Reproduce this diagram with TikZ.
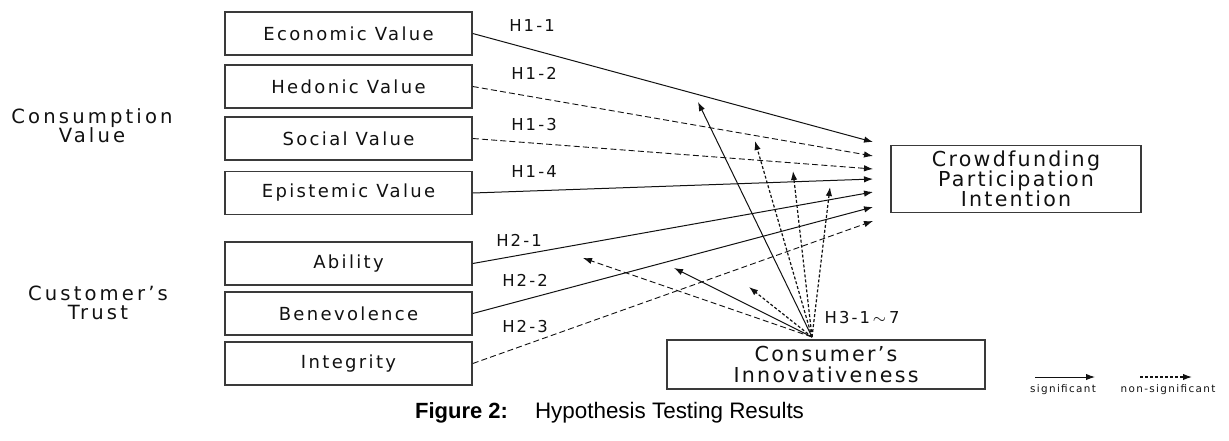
\documentclass[tikz,border=0pt]{standalone}
\usepackage{fontspec}
\setmainfont{Liberation Sans}
\newfontfamily\diagfont[LetterSpace=13]{DejaVu Sans}
\newfontfamily\groupfont[LetterSpace=16]{DejaVu Sans}
\newfontfamily\outfont[LetterSpace=11]{DejaVu Sans}
\usetikzlibrary{arrows.meta}
\definecolor{diagink}{HTML}{111111}
\definecolor{diagbox}{HTML}{3A3A3A}
\tikzset{
  varbox/.style={draw=diagbox, line width=.75pt, minimum width=123.5pt,
    minimum height=21.5pt, inner sep=0pt, align=center, text=diagink,
    font=\diagfont\fontsize{9}{10}\selectfont},
  outbox/.style={varbox, font=\outfont\fontsize{10.3}{10.1}\selectfont},
  groupname/.style={align=center, text=diagink,
    font=\groupfont\fontsize{9.8}{9.6}\selectfont},
  hyplabel/.style={text=diagink, font=\diagfont\fontsize{8.2}{9}\selectfont},
  legendtext/.style={text=diagink, font=\diagfont\fontsize{5.2}{6}\selectfont},
  sigflow/.style={-{Latex[length=4.5pt,width=3.2pt]}, draw=diagink, line width=.5pt},
  nsflow/.style={-{Latex[length=4.5pt,width=3.2pt]}, draw=diagink, line width=.45pt,
    dash pattern=on 3pt off 1.6pt},
  dotflow/.style={-{Latex[length=4.5pt,width=3.2pt]}, draw=diagink, line width=.6pt,
    dash pattern=on 1.5pt off 1pt}
}
\begin{document}
\begin{tikzpicture}[x=.5pt,y=-.5pt]
  \useasboundingbox (0,0) rectangle (1229,440);
  % constructs, positioned on the pixel grid of the original figure
  \node[groupname] (cval) at (92,126) {Consumption\\Value};
  \node[groupname] (ctrust) at (98,303) {Customer’s\\Trust};

  \node[varbox] (econ) at (348.5,33.5) {Economic Value};
  \node[varbox] (hedo) at (348.5,86.5) {Hedonic Value};
  \node[varbox] (soc) at (348.5,138.5) {Social Value};
  \node[varbox] (epis) at (348.5,193) {Epistemic Value};
  \node[varbox] (abil) at (348.5,263.5) {Ability};
  \node[varbox] (bene) at (348.5,313.5) {Benevolence};
  \node[varbox] (integ) at (348.5,363.5) {Integrity};
  \node[outbox, minimum width=125pt, minimum height=33.5pt] (cpi) at (1016,179)
    {Crowdfunding\\Participation\\Intention};
  \node[outbox, minimum width=159pt, minimum height=24.5pt] (innov) at (826,364.5)
    {Consumer’s\\Innovativeness};

  \coordinate (t11) at (873,142);
  \coordinate (t12) at (873,156);
  \coordinate (t13) at (873,169);
  \coordinate (t14) at (873,179);
  \coordinate (t21) at (873,192);
  \coordinate (t22) at (873,207);
  \coordinate (t23) at (873,221);
  \draw[sigflow] (econ.east) -- (t11);
  \draw[nsflow] (hedo.east) -- (t12);
  \draw[nsflow] (soc.east) -- (t13);
  \draw[sigflow] (epis.east) -- (t14);
  \draw[sigflow] (abil.east) -- (t21);
  \draw[sigflow] (bene.east) -- (t22);
  \draw[nsflow] (integ.east) -- (t23);

  \node[hyplabel] (h11) at (532,26) {H1-1};
  \node[hyplabel] (h12) at (534,73) {H1-2};
  \node[hyplabel] (h13) at (534,125) {H1-3};
  \node[hyplabel] (h14) at (534,172) {H1-4};
  \node[hyplabel] (h21) at (519,240) {H2-1};
  \node[hyplabel] (h22) at (525,280) {H2-2};
  \node[hyplabel] (h23) at (525,327) {H2-3};
  \node[hyplabel] (h3) at (862,318) {H3-1$\,\sim\,$7};

  % moderating paths of innovativeness
  \coordinate (src) at (812,337);
  \coordinate (m1) at (698,102);
  \coordinate (m2) at (755,141);
  \coordinate (m3) at (793,171);
  \coordinate (m4) at (830,187);
  \coordinate (m5) at (674,268);
  \coordinate (m6) at (749,287);
  \coordinate (m7) at (583,258);
  \draw[sigflow] (src) -- (m1);
  \draw[dotflow] (src) -- (m2);
  \draw[dotflow] (src) -- (m3);
  \draw[dotflow] (src) -- (m4);
  \draw[sigflow] (src) -- (m5);
  \draw[dotflow] (src) -- (m6);
  \draw[nsflow] (src) -- (m7);

  \coordinate (ls1) at (1035,377);
  \coordinate (ls2) at (1095,377);
  \coordinate (ln1) at (1140,377);
  \coordinate (ln2) at (1192,377);
  \draw[sigflow] (ls1) -- (ls2);
  \draw[dotflow] (ln1) -- (ln2);
  \node[legendtext] (lsig) at (1063,390) {significant};
  \node[legendtext] (lns) at (1168,390) {non-significant};

  \node[anchor=west, font=\fontsize{11}{13}\selectfont\bfseries] (fignum) at (408,413) {Figure 2:};
  \node[anchor=west, font=\fontsize{11.2}{13}\selectfont] (figtitle) at (528,413) {Hypothesis Testing Results};
\end{tikzpicture}
\end{document}
